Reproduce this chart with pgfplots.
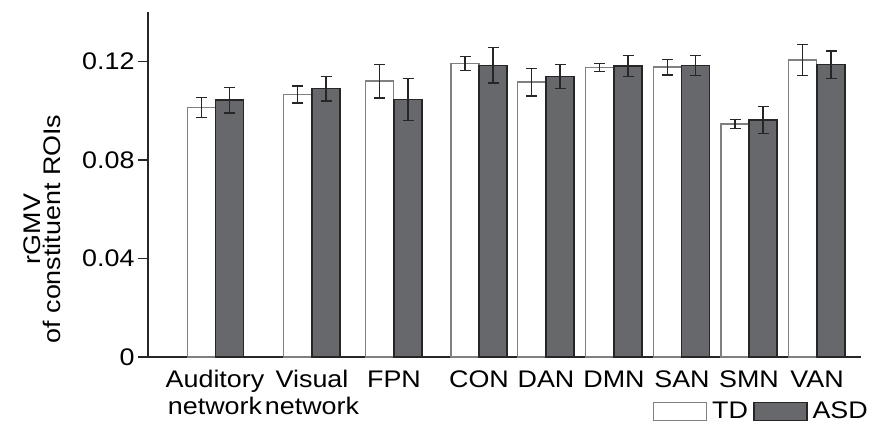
\documentclass[border=0pt]{standalone}
\usepackage{fontspec}
\setmainfont{Liberation Sans}[FakeStretch=1.12]
\usepackage{pgfplots}
\usepackage{pgfplotstable}
\pgfplotsset{compat=1.18}
\definecolor{asd}{HTML}{67686B}
\definecolor{tdedge}{HTML}{808080}

\pgfplotstableread{
x      y       e
201.5  0.1012  0.0041
297.5  0.1065  0.0034
379.5  0.1119  0.0068
465    0.1191  0.0028
531.5  0.1115  0.0056
599.5  0.1174  0.0016
667.5  0.1176  0.0031
735    0.0945  0.0018
802.5  0.1205  0.0063
}\tdtable

\pgfplotstableread{
x      y       e
229.5  0.1042  0.0052
326    0.1089  0.0050
408    0.1045  0.0085
493    0.1183  0.0072
560    0.1138  0.0048
628    0.1181  0.0043
695.5  0.1183  0.0040
763    0.0961  0.0055
831    0.1186  0.0055
}\asdtable

\begin{document}
\begin{tikzpicture}
\begin{axis}[
  scale only axis, width=713pt, height=345pt,
  xmin=148, xmax=861, ymin=0, ymax=0.14,
  clip=false,
  axis x line*=bottom, axis y line*=left,
  axis line style={line width=1.3pt, black!85},
  ytick={0,0.04,0.08,0.12}, yticklabels={0,0.04,0.08,0.12},
  xtick={215,312,394,479,546,614,682,749,817},
  xticklabels={{Auditory\\network},{Visual\\network},FPN,CON,DAN,DMN,SAN,SMN,VAN},
  xticklabel style={align=center},
  x tick style={draw=none},
  tick align=outside, major tick length=10pt,
  y tick style={line width=1.3pt, black!85},
  ticklabel style={font=\fontsize{24}{27}\selectfont},
  /pgf/number format/assume math mode=true,
  ylabel={rGMV\\[-7pt]of constituent ROIs},
  ylabel style={align=center, font=\fontsize{24}{27}\selectfont, at={(rel axis cs:-0.148,0.371)}, anchor=center},
  legend style={at={(rel axis cs:1.0126,-0.1246)}, anchor=north east, draw=none, fill=none,
    font=\fontsize{24}{27}\selectfont, legend columns=2,
    /tikz/every even column/.append style={column sep=3pt},
    /tikz/every odd column/.append style={column sep=3pt},
    inner sep=0pt},
  legend image code/.code={\draw[#1] (0pt,-9pt) rectangle (53pt,9pt);},
]
\addplot[ybar, bar width=28pt, bar shift=0pt, fill=white, draw=tdedge, line width=1.5pt,
  error bars/.cd, y dir=both, y explicit,
  error bar style={line width=1.5pt, black!85},
  error mark options={rotate=90, mark size=5.5pt, line width=1.5pt, black!85}]
  table[x=x, y=y, y error=e] {\tdtable};
\addlegendentry{TD}
\addplot[ybar, bar width=28pt, bar shift=0pt, fill=asd, draw=black!85, line width=1.5pt,
  error bars/.cd, y dir=both, y explicit,
  error bar style={line width=1.5pt, black!85},
  error mark options={rotate=90, mark size=5.5pt, line width=1.5pt, black!85}]
  table[x=x, y=y, y error=e] {\asdtable};
\addlegendentry{ASD}
\path (rel axis cs:-0.2076,-0.1913) rectangle (rel axis cs:1.0182,1.0348);
\end{axis}
\end{tikzpicture}
\end{document}
